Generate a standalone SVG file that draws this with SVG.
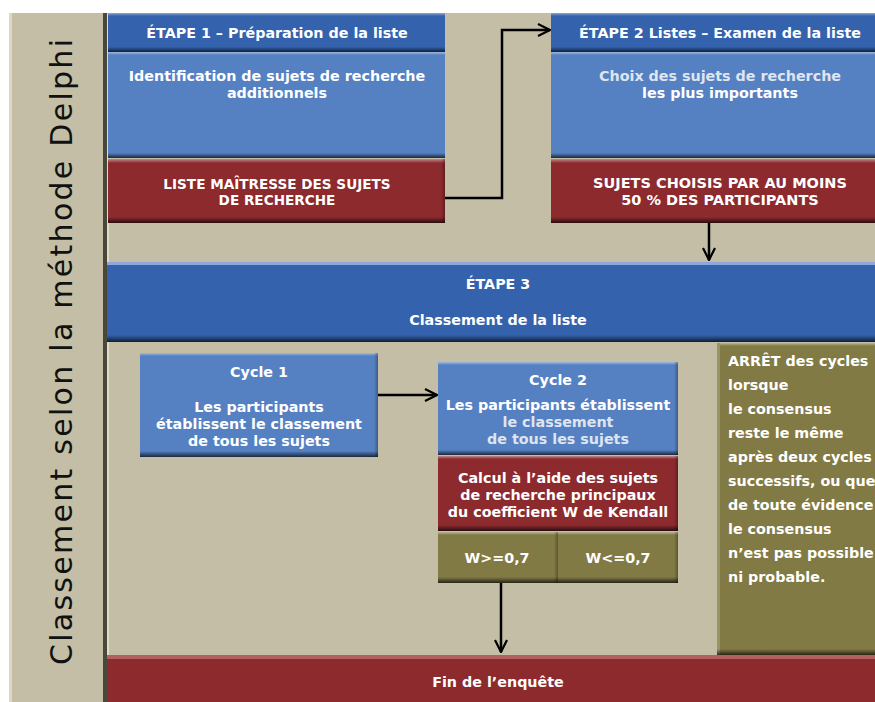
<svg xmlns="http://www.w3.org/2000/svg" width="875" height="702" viewBox="0 0 875 702">
<defs>
<linearGradient id="gHi" x1="0" y1="0" x2="0" y2="1"><stop offset="0" stop-color="#fff" stop-opacity="0.45"/><stop offset="1" stop-color="#fff" stop-opacity="0"/></linearGradient>
<linearGradient id="gSh" x1="0" y1="0" x2="0" y2="1"><stop offset="0" stop-color="#000" stop-opacity="0"/><stop offset="1" stop-color="#000" stop-opacity="0.7"/></linearGradient>
<linearGradient id="gSide" x1="0" y1="0" x2="1" y2="0"><stop offset="0" stop-color="#000" stop-opacity="0"/><stop offset="1" stop-color="#000" stop-opacity="0.3"/></linearGradient>
<marker id="arr" viewBox="0 0 14 14" refX="13" refY="7" markerWidth="14" markerHeight="14" markerUnits="userSpaceOnUse" orient="auto">
<path d="M1,1 L13,7 L1,13" fill="none" stroke="#000" stroke-width="2.2"/>
</marker>
</defs>
<style>
.bg{fill:#c4bea6}
.hd{fill:#3462ad}
.bd{fill:#5581c3}
.rd{fill:#8c2a2e}
.ol{fill:#827a45}
.hi{fill:url(#gHi)}
.sh{fill:url(#gSh)}
.sd{fill:url(#gSide)}
text{font-family:"DejaVu Sans",Verdana,sans-serif;font-weight:bold;font-size:14.3px;fill:#fff;text-anchor:middle}
.lt{fill:#dfe5ef}
.left{text-anchor:start}
.title{font-weight:normal;font-size:30px;fill:#111;text-anchor:start}
.conn{fill:none;stroke:#000;stroke-width:2.5}
</style>
<rect width="875" height="702" fill="#fff"/>
<rect class="bg" x="9" y="13" width="866" height="689"/>
<rect x="9" y="13" width="3" height="689" fill="#ddd8c6"/>
<rect x="103" y="13" width="4" height="689" fill="#4a4838"/>
<rect x="107" y="13" width="2" height="689" fill="#e0dccb"/>
<g id="title">
<text class="title" transform="translate(72,665) rotate(-90)" textLength="626">Classement selon la méthode Delphi</text>
</g>
<g id="etape1">
<rect class="hd" x="108" y="13" width="337" height="39"/>
<rect class="hi" x="108" y="13" width="337" height="3"/>
<rect class="sh" x="108" y="47" width="337" height="5"/>
<text x="277" y="38">ÉTAPE 1 – Préparation de la liste</text>
</g>
<g id="ident">
<rect class="bd" x="108" y="52" width="337" height="106"/>
<rect class="hi" x="108" y="52" width="337" height="3"/>
<rect class="sh" x="108" y="153" width="337" height="5"/>
<text x="277" y="81">Identification de sujets de recherche</text>
<text x="277" y="98">additionnels</text>
</g>
<g id="liste">
<rect class="rd" x="108" y="159" width="337" height="64"/>
<rect class="hi" x="108" y="159" width="337" height="4"/>
<rect class="sh" x="108" y="217" width="337" height="6"/>
<rect class="sd" x="441" y="159" width="4" height="64"/>
<text x="277" y="189" style="font-size:13.6px">LISTE MAÎTRESSE DES SUJETS</text>
<text x="277" y="205" style="font-size:13.6px">DE RECHERCHE</text>
</g>
<g id="etape2">
<rect class="hd" x="551" y="13" width="324" height="39"/>
<rect class="hi" x="551" y="13" width="324" height="3"/>
<rect class="sh" x="551" y="47" width="324" height="5"/>
<text x="720" y="38">ÉTAPE 2 Listes – Examen de la liste</text>
</g>
<g id="choix">
<rect class="bd" x="551" y="52" width="324" height="106"/>
<rect class="hi" x="551" y="52" width="324" height="3"/>
<rect class="sh" x="551" y="153" width="324" height="5"/>
<text class="lt" x="720" y="81">Choix des sujets de recherche</text>
<text x="720" y="98">les plus importants</text>
</g>
<g id="sujets">
<rect class="rd" x="551" y="159" width="324" height="64"/>
<rect class="hi" x="551" y="159" width="324" height="4"/>
<rect class="sh" x="551" y="217" width="324" height="6"/>
<text x="720" y="188" style="font-size:14.5px">SUJETS CHOISIS PAR AU MOINS</text>
<text x="720" y="205" style="font-size:14.5px">50 % DES PARTICIPANTS</text>
</g>
<g id="etape3">
<rect class="hd" x="107" y="262" width="768" height="80"/>
<rect x="107" y="262" width="768" height="3" fill="#8ea8dc"/>
<rect class="sh" x="107" y="335" width="768" height="7"/>
<text x="498" y="289">ÉTAPE 3</text>
<text x="498" y="325">Classement de la liste</text>
</g>
<g id="cycle1">
<rect class="bd" x="140" y="353" width="238" height="104"/>
<rect class="hi" x="140" y="353" width="238" height="3"/>
<rect class="sh" x="140" y="451" width="238" height="6"/>
<rect class="sd" x="374" y="353" width="4" height="104"/>
<text x="259" y="377">Cycle 1</text>
<text x="259" y="412">Les participants</text>
<text x="259" y="429">établissent le classement</text>
<text x="259" y="446">de tous les sujets</text>
</g>
<g id="cycle2">
<rect class="bd" x="438" y="362" width="240" height="93"/>
<rect class="hi" x="438" y="362" width="240" height="3"/>
<rect class="sh" x="438" y="450" width="240" height="5"/>
<rect class="sd" x="674" y="362" width="4" height="93"/>
<text x="558" y="385">Cycle 2</text>
<text x="558" y="410">Les participants établissent</text>
<text class="lt" x="558" y="427">le classement</text>
<text class="lt" x="558" y="444">de tous les sujets</text>
</g>
<g id="calcul">
<rect class="rd" x="438" y="456" width="240" height="75"/>
<rect class="hi" x="438" y="456" width="240" height="3"/>
<rect class="sh" x="438" y="525" width="240" height="6"/>
<rect class="sd" x="674" y="456" width="4" height="75"/>
<text x="558" y="483">Calcul à l’aide des sujets</text>
<text x="558" y="500">de recherche principaux</text>
<text x="558" y="517">du coefficient W de Kendall</text>
</g>
<g id="wge">
<rect class="ol" x="438" y="532" width="120" height="51"/>
<rect class="hi" x="438" y="532" width="120" height="3"/>
<rect class="sh" x="438" y="577" width="120" height="6"/>
<rect class="sd" x="554" y="532" width="4" height="51"/>
<text x="497" y="563">W&gt;=0,7</text>
</g>
<g id="wle">
<rect class="ol" x="558" y="532" width="120" height="51"/>
<rect class="hi" x="558" y="532" width="120" height="3"/>
<rect class="sh" x="558" y="577" width="120" height="6"/>
<rect class="sd" x="674" y="532" width="4" height="51"/>
<text x="618" y="563">W&lt;=0,7</text>
</g>
<g id="arret">
<rect class="ol" x="717" y="343" width="158" height="312"/>
<rect class="hi" x="717" y="343" width="158" height="3"/>
<rect x="717" y="343" width="3" height="312" fill="#9a9363"/>
<rect class="sh" x="717" y="649" width="158" height="6"/>
<text class="left" x="728" y="366">ARRÊT des cycles</text>
<text class="left" x="728" y="390">lorsque</text>
<text class="left" x="728" y="414">le consensus</text>
<text class="left" x="728" y="438">reste le même</text>
<text class="left" x="728" y="462">après deux cycles</text>
<text class="left" x="728" y="486">successifs, ou que</text>
<text class="left" x="728" y="510">de toute évidence</text>
<text class="left" x="728" y="534">le consensus</text>
<text class="left" x="728" y="558">n’est pas possible</text>
<text class="left" x="728" y="582">ni probable.</text>
</g>
<g id="fin">
<rect class="rd" x="107" y="655" width="768" height="47"/>
<rect x="107" y="655" width="768" height="4" fill="#b36062"/>
<text x="498" y="687">Fin de l’enquête</text>
</g>
<g id="connectors">
<path class="conn" d="M445,198 H502 V30 H550" marker-end="url(#arr)"/>
<path class="conn" d="M709,223 V260" marker-end="url(#arr)"/>
<path class="conn" d="M378,395 H437" marker-end="url(#arr)"/>
<path class="conn" d="M501,583 V652" marker-end="url(#arr)"/>
</g>
</svg>
